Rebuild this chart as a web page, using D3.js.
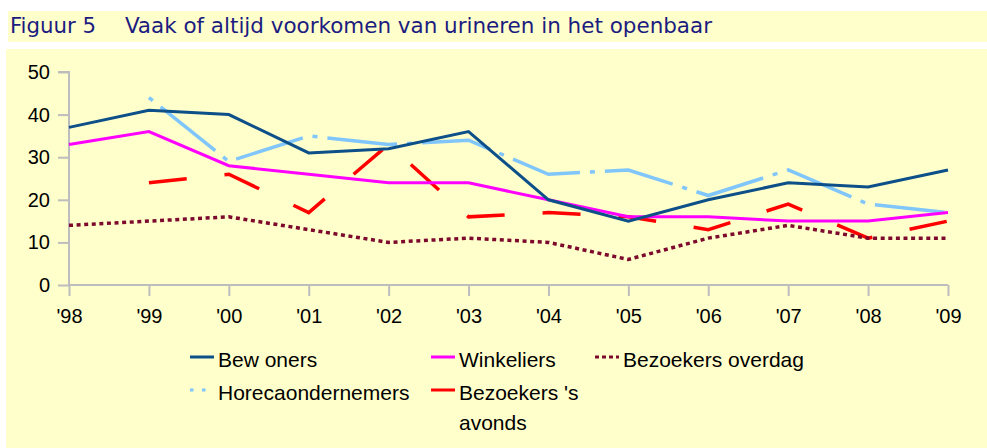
<!DOCTYPE html>
<html>
<head>
<meta charset="utf-8">
<script src="https://cdn.jsdelivr.net/npm/d3@7"></script>
<style>
  html, body { margin: 0; padding: 0; background: #ffffff; }
  svg { display: block; }
</style>
</head>
<body>
<svg id="chart" width="987" height="448"></svg>
<script>
const years = ["'98","'99","'00","'01","'02","'03","'04","'05","'06","'07","'08","'09"];
const bewoners = [37, 41, 40, 31, 32, 36, 20, 15, 20, 24, 23, 27];
const winkeliers = [33, 36, 28, 26, 24, 24, 20, 16, 16, 15, 15, 17];
const bezoekersOverdag = [14, 15, 16, 13, 10, 11, 10, 6, 11, 14, 11, 11];
const horeca = [null, 44, 29, 35, 33, 34, 26, 27, 21, 27, 19, 17];
const bezoekersAvonds = [null, 24, 26, 17, 33, 16, 17, 16, 13, 19, 11, 15];
const yTicks = [0, 10, 20, 30, 40, 50];

const series = [
  { name: "Bew oners", values: bewoners, color: "#0d4f88", width: 3, dash: null, legendDash: null, col: 0, row: 0 },
  { name: "Winkeliers", values: winkeliers, color: "#ff00ff", width: 3, dash: null, legendDash: null, col: 1, row: 0 },
  { name: "Bezoekers overdag", values: bezoekersOverdag, color: "#7d0a2c", width: 3.5, dash: "4,3.6", legendDash: "4,3", col: 2, row: 0 },
  { name: "Horecaondernemers", values: horeca, color: "#80c6fa", width: 3.5, dash: "70,10,5,10", offset: 80, legendDash: "3.5,8.5", col: 0, row: 1 },
  { name: ["Bezoekers 's", "avonds"], values: bezoekersAvonds, color: "#ff0000", width: 3.5, dash: "38,38", legendDash: null, col: 1, row: 1 }
];

const svg = d3.select("#chart");

// backgrounds
svg.append("rect").attr("x", 8).attr("y", 11).attr("width", 979).attr("height", 31).attr("fill", "#ffffcc");
svg.append("rect").attr("x", 6).attr("y", 49).attr("width", 981).attr("height", 399).attr("fill", "#ffffcc");

// title
const titleFont = "'DejaVu Sans Condensed', 'DejaVu Sans', sans-serif";
svg.append("text").attr("x", 10).attr("y", 33)
  .attr("font-family", titleFont).attr("font-size", 22).attr("fill", "#1c1c80")
  .attr("textLength", 86).attr("lengthAdjust", "spacingAndGlyphs")
  .text("Figuur 5");
svg.append("text").attr("x", 125).attr("y", 33)
  .attr("font-family", titleFont).attr("font-size", 22).attr("fill", "#1c1c80")
  .attr("textLength", 587).attr("lengthAdjust", "spacingAndGlyphs")
  .text("Vaak of altijd voorkomen van urineren in het openbaar");

const x = d3.scaleLinear().domain([0, years.length - 1]).range([69, 948]);
const y = d3.scaleLinear().domain([0, 50]).range([285, 72]);

const font = "'Liberation Sans', Arial, sans-serif";
const axisColor = "#bdbdbd";

// y axis
const yAxis = d3.axisLeft(y).tickValues(yTicks).tickSize(11).tickPadding(8).tickFormat(d3.format("d"));
const gy = svg.append("g").attr("transform", "translate(69,0)").call(yAxis);
gy.select(".domain").attr("stroke", axisColor).attr("stroke-width", 2).attr("d", `M-11,${y(50)}H0V${y(0)}`);
gy.selectAll(".tick line").attr("stroke", axisColor).attr("stroke-width", 2);
gy.selectAll(".tick text").attr("font-family", font).attr("font-size", 20).attr("fill", "#000");

// x axis
const xAxis = d3.axisBottom(x).tickValues(d3.range(years.length)).tickSize(11).tickPadding(13).tickFormat(i => years[i]);
const gx = svg.append("g").attr("transform", `translate(0,${y(0)})`).call(xAxis);
gx.select(".domain").attr("stroke", axisColor).attr("stroke-width", 2).attr("d", `M${x(0)},0H${x(11)}`);
gx.selectAll(".tick line").attr("stroke", axisColor).attr("stroke-width", 2);
gx.selectAll(".tick text").attr("font-family", font).attr("font-size", 20).attr("fill", "#000");

// lines
const line = d3.line().defined(d => d != null).x((d, i) => x(i)).y(d => y(d));
const order = [4, 2, 3, 1, 0];
order.forEach(k => {
  const s = series[k];
  const p = svg.append("path").attr("d", line(s.values)).attr("fill", "none")
    .attr("stroke", s.color).attr("stroke-width", s.width)
    .attr("stroke-linejoin", "miter").attr("stroke-linecap", "butt");
  if (s.dash) p.attr("stroke-dasharray", s.dash);
  if (s.offset) p.attr("stroke-dashoffset", s.offset);
});

// legend
const colX = [190, 431, 595];
const rowY = [357, 390];
series.forEach(s => {
  const lx = colX[s.col], ly = rowY[s.row];
  const l = svg.append("line").attr("x1", lx).attr("x2", lx + 24).attr("y1", ly).attr("y2", ly)
    .attr("stroke", s.color).attr("stroke-width", 3);
  if (s.legendDash) l.attr("stroke-dasharray", s.legendDash);
  const names = Array.isArray(s.name) ? s.name : [s.name];
  const t = svg.append("text").attr("x", lx + 28).attr("y", ly + 10)
    .attr("font-family", font).attr("font-size", 21).attr("fill", "#000");
  names.forEach((n, j) => {
    t.append("tspan").attr("x", lx + 28).attr("dy", j === 0 ? 0 : 30).text(n);
  });
});
</script>
</body>
</html>
